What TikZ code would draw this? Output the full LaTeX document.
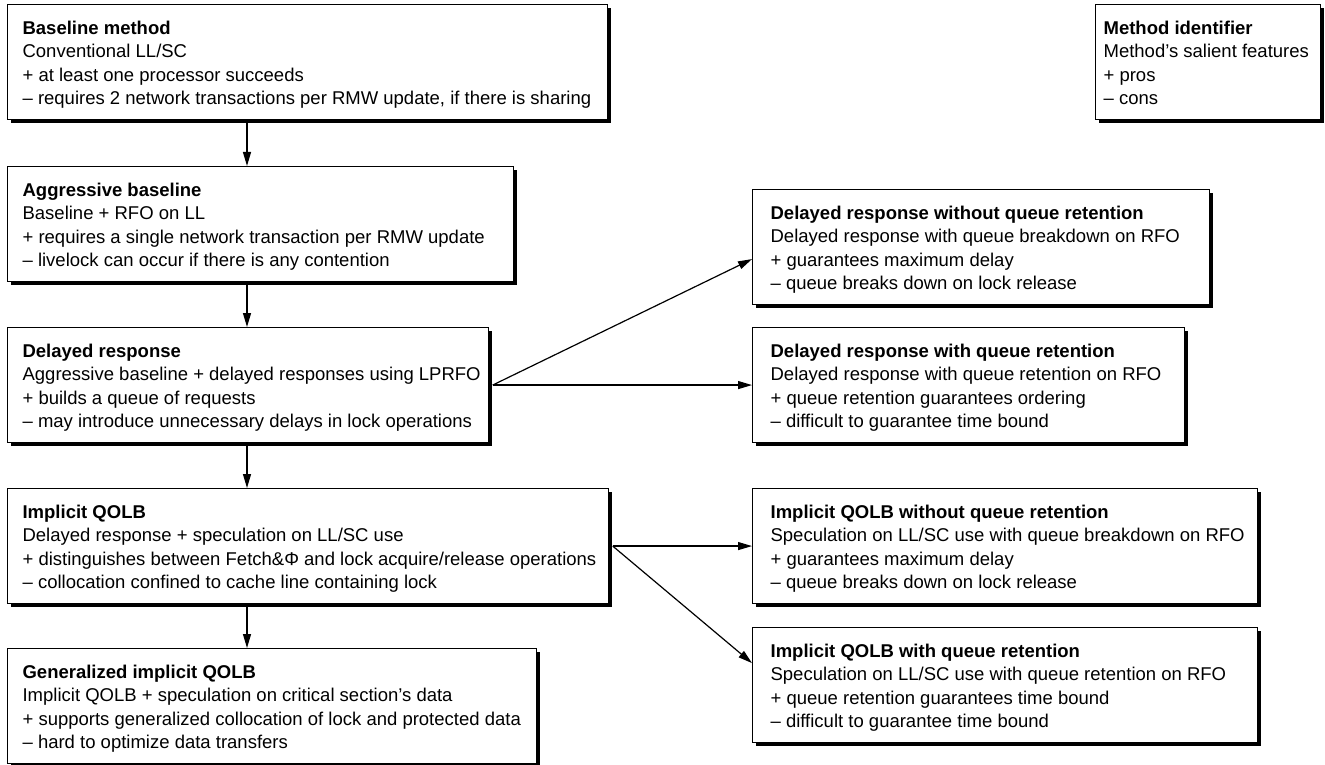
\documentclass[tikz,border=0pt]{standalone}
\usepackage{fontspec}
\setmainfont{Liberation Sans}
\usetikzlibrary{arrows.meta,shadows}
\newcommand{\mcell}[6]{\makebox[#1][l]{\hspace{#2}\begin{tabular}{@{}l@{}}\rule{0pt}{30pt}\textbf{#3}\\#4\\#5\\#6\rule[-15pt]{0pt}{15pt}\end{tabular}}}
\begin{document}
\begin{tikzpicture}[x=1pt,y=1pt,
  mbox/.style={draw, line width=1.2pt, fill=white, inner sep=0pt, anchor=north west,
    font=\fontsize{18.5pt}{23.3pt}\selectfont,
    drop shadow={shadow xshift=3.5pt, shadow yshift=-3.5pt, fill=black, opacity=1}},
  conn/.style={line width=1.2pt, -{Triangle[length=14pt,width=8pt]}}]
\useasboundingbox (0,0) rectangle (1325,-765);
\node[mbox] (b1) at (7,-4) {\mcell{600pt}{15pt}{Baseline method}{Conventional LL/SC}{+ at least one processor succeeds}{– requires 2 network transactions per RMW update, if there is sharing}};
\node[mbox] (b2) at (7,-166) {\mcell{506pt}{15pt}{Aggressive baseline}{Baseline + RFO on LL}{+ requires a single network transaction per RMW update}{– livelock can occur if there is any contention}};
\node[mbox] (b3) at (7,-327) {\mcell{481pt}{15pt}{Delayed response}{Aggressive baseline + delayed responses using LPRFO}{+ builds a queue of requests}{– may introduce unnecessary delays in lock operations}};
\node[mbox] (b4) at (7,-488) {\mcell{601pt}{15pt}{Implicit QOLB}{Delayed response + speculation on LL/SC use}{+ distinguishes between Fetch\&Φ and lock acquire/release operations}{– collocation confined to cache line containing lock}};
\node[mbox] (b5) at (7,-648) {\mcell{529pt}{15pt}{Generalized implicit QOLB}{Implicit QOLB + speculation on critical section’s data}{+ supports generalized collocation of lock and protected data}{– hard to optimize data transfers}};
\node[mbox] (r1) at (752,-189) {\mcell{457pt}{18pt}{Delayed response without queue retention}{Delayed response with queue breakdown on RFO}{+ guarantees maximum delay}{– queue breaks down on lock release}};
\node[mbox] (r2) at (752,-327) {\mcell{432pt}{18pt}{Delayed response with queue retention}{Delayed response with queue retention on RFO}{+ queue retention guarantees ordering}{– difficult to guarantee time bound}};
\node[mbox] (r3) at (752,-488) {\mcell{505pt}{18pt}{Implicit QOLB without queue retention}{Speculation on LL/SC use with queue breakdown on RFO}{+ guarantees maximum delay}{– queue breaks down on lock release}};
\node[mbox] (r4) at (752,-627) {\mcell{505pt}{18pt}{Implicit QOLB with queue retention}{Speculation on LL/SC use with queue retention on RFO}{+ queue retention guarantees time bound}{– difficult to guarantee time bound}};
\node[mbox] (m) at (1095,-4) {\mcell{225pt}{8pt}{Method identifier}{Method’s salient features}{+ pros}{– cons}};
\draw[conn] ([xshift=240pt]b1.south west) -- ([xshift=240pt]b2.north west);
\draw[conn] ([xshift=240pt]b2.south west) -- ([xshift=240pt]b3.north west);
\draw[conn] ([xshift=240pt]b3.south west) -- ([xshift=240pt]b4.north west);
\draw[conn] ([xshift=240pt]b4.south west) -- ([xshift=240pt]b5.north west);
\draw[conn] ([xshift=3.5pt]b3.east) -- ([yshift=46pt]r1.south west);
\draw[conn] ([xshift=3.5pt]b3.east) -- (r2.west);
\draw[conn] ([xshift=3.5pt]b4.east) -- (r3.west);
\draw[conn] ([xshift=3.5pt]b4.east) -- ([yshift=80pt]r4.south west);
\end{tikzpicture}
\end{document}
